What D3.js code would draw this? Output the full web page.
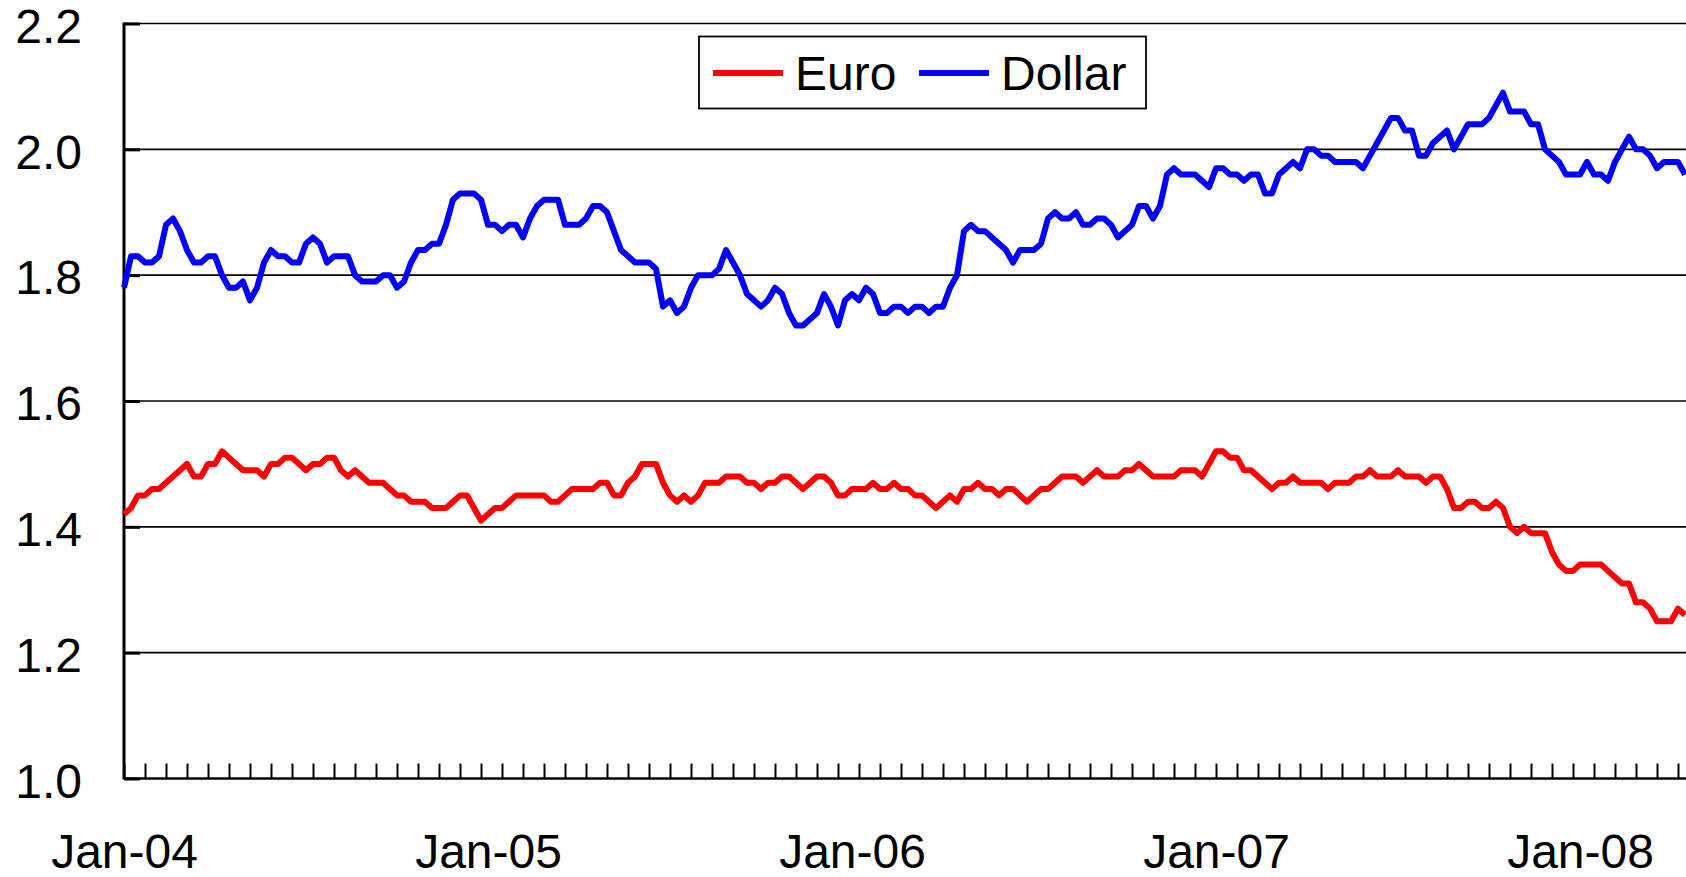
<!DOCTYPE html>
<html><head><meta charset="utf-8">
<script src="https://cdn.jsdelivr.net/npm/d3@7"></script>
<style>html,body{margin:0;padding:0;background:#fff;overflow:hidden}</style>
</head><body>
<svg id="chart" width="1686" height="877"></svg>
<script>
// ---- data (weekly observations, Jan 2004 onwards) ----
const seriesNames = ["Euro", "Dollar"];
const euro = [
 1.42,1.43,1.45,1.45,1.46,1.46,1.47,1.48,1.49,1.50,1.48,1.48,1.50,1.50,1.52,1.51,1.50,1.49,1.49,1.49,
 1.48,1.50,1.50,1.51,1.51,1.50,1.49,1.50,1.50,1.51,1.51,1.49,1.48,1.49,1.48,1.47,1.47,
 1.47,1.46,1.45,1.45,1.44,1.44,1.44,1.43,1.43,1.43,1.44,1.45,1.45,1.43,1.41,1.42,1.43,1.43,1.44,1.45,
 1.45,1.45,1.45,1.45,1.44,1.44,1.45,1.46,1.46,1.46,1.46,1.47,1.47,1.45,1.45,1.47,1.48,
 1.50,1.50,1.50,1.47,1.45,1.44,1.45,1.44,1.45,1.47,1.47,1.47,1.48,1.48,1.48,1.47,1.47,1.46,1.47,1.47,
 1.48,1.48,1.47,1.46,1.47,1.48,1.48,1.47,1.45,1.45,1.46,1.46,1.46,1.47,1.46,1.46,
 1.47,1.46,1.46,1.45,1.45,1.44,1.43,1.44,1.45,1.44,1.46,1.46,1.47,1.46,1.46,1.45,1.46,1.46,1.45,1.44,
 1.45,1.46,1.46,1.47,1.48,1.48,1.48,1.47,1.48,1.49,1.48,1.48,1.48,1.49,1.49,1.50,1.49,1.48,1.48,
 1.48,1.48,1.49,1.49,1.49,1.48,1.50,1.52,1.52,1.51,1.51,1.49,1.49,1.48,1.47,1.46,1.47,1.47,1.48,1.47,
 1.47,1.47,1.47,1.46,1.47,1.47,1.47,1.48,1.48,1.49,1.48,1.48,1.48,1.49,1.48,
 1.48,1.48,1.47,1.48,1.48,1.46,1.43,1.43,1.44,1.44,1.43,1.43,1.44,1.43,1.40,1.39,1.40,1.39,1.39,1.39,
 1.36,1.34,1.33,1.33,1.34,1.34,1.34,1.34,1.33,1.32,1.31,1.31,1.28,1.28,1.27,1.25,1.25,1.25,1.27,1.26
];
const dollar = [
 1.78,1.83,1.83,1.82,1.82,1.83,1.88,1.89,1.87,1.84,1.82,1.82,1.83,1.83,1.80,1.78,1.78,1.79,1.76,1.78,
 1.82,1.84,1.83,1.83,1.82,1.82,1.85,1.86,1.85,1.82,1.83,1.83,1.83,1.80,1.79,1.79,1.79,
 1.80,1.80,1.78,1.79,1.82,1.84,1.84,1.85,1.85,1.88,1.92,1.93,1.93,1.93,1.92,1.88,1.88,1.87,1.88,1.88,
 1.86,1.89,1.91,1.92,1.92,1.92,1.88,1.88,1.88,1.89,1.91,1.91,1.90,1.87,1.84,1.83,
 1.82,1.82,1.82,1.81,1.75,1.76,1.74,1.75,1.78,1.80,1.80,1.80,1.81,1.84,1.82,1.80,1.77,1.76,1.75,1.76,
 1.78,1.77,1.74,1.72,1.72,1.73,1.74,1.77,1.75,1.72,1.76,1.77,1.76,1.78,1.77,1.74,1.74,
 1.75,1.75,1.74,1.75,1.75,1.74,1.75,1.75,1.78,1.80,1.87,1.88,1.87,1.87,1.86,1.85,1.84,1.82,1.84,1.84,
 1.84,1.85,1.89,1.90,1.89,1.89,1.90,1.88,1.88,1.89,1.89,1.88,1.86,1.87,1.88,1.91,1.91,1.89,
 1.91,1.96,1.97,1.96,1.96,1.96,1.95,1.94,1.97,1.97,1.96,1.96,1.95,1.96,1.96,1.93,1.93,1.96,1.97,1.98,
 1.97,2.00,2.00,1.99,1.99,1.98,1.98,1.98,1.98,1.97,1.99,2.01,2.03,2.05,2.05,2.03,2.03,
 1.99,1.99,2.01,2.02,2.03,2.00,2.02,2.04,2.04,2.04,2.05,2.07,2.09,2.06,2.06,2.06,2.04,2.04,2.00,1.99,
 1.98,1.96,1.96,1.96,1.98,1.96,1.96,1.95,1.98,2.00,2.02,2.00,2.00,1.99,1.97,1.98,1.98,1.98,1.96
];
const yTickValues = [1.0, 1.2, 1.4, 1.6, 1.8, 2.0, 2.2];
const xLabelWeeks = [0, 52, 104, 156, 208];          // category index of each label
const xTickLabels = ["Jan-04", "Jan-05", "Jan-06", "Jan-07", "Jan-08"];
const tickEveryWeeks = 3;

// ---- styles / layout ----
const colors = {Euro: "#ff0000", Dollar: "#0000ff"};
const W = 1686, H = 877;
const plotLeft = 124, plotTop = 23.5, plotBottom = 778.5, plotRight = W;
const weekPx = 7.0;
const font = "'Liberation Sans', Arial, sans-serif";

const n = euro.length;
const series = [
  {name: "Euro", values: euro},
  {name: "Dollar", values: dollar}
];

const x = d3.scaleLinear().domain([0, n - 1]).range([plotLeft, plotLeft + (n - 1) * weekPx]);
const y = d3.scaleLinear().domain([1.0, 2.2]).range([plotBottom, plotTop]);

const svg = d3.select("#chart");
svg.append("rect").attr("width", W).attr("height", H).attr("fill", "#fff");

// horizontal gridlines
svg.append("g").selectAll("line").data(yTickValues.filter(v => v > 1.0)).join("line")
  .attr("x1", plotLeft).attr("x2", plotRight)
  .attr("y1", d => y(d)).attr("y2", d => y(d))
  .attr("stroke", "#000").attr("stroke-width", 1.6);

// y axis (inward ticks + labels)
const yAxis = svg.append("g").attr("transform", `translate(${plotLeft},0)`)
  .call(d3.axisLeft(y).tickValues(yTickValues).tickSize(-16).tickPadding(42)
        .tickFormat(d3.format(".1f")));
yAxis.select(".domain").remove();
yAxis.selectAll(".tick line").attr("stroke", "#000").attr("stroke-width", 3);
yAxis.selectAll("text").attr("font-family", font).attr("font-size", 48).attr("fill", "#000")
  .attr("dy", "0.39em");

// x axis: inward category tick marks
const xMinor = svg.append("g").attr("transform", `translate(0,${plotBottom})`)
  .call(d3.axisBottom(x).tickValues(d3.range(0, n, tickEveryWeeks)).tickSize(-15).tickFormat(""));
xMinor.select(".domain").remove();
xMinor.selectAll(".tick line").attr("stroke", "#000").attr("stroke-width", 2);

// x labels
const xLab = svg.append("g").attr("transform", `translate(0,${plotBottom})`)
  .call(d3.axisBottom(x).tickValues(xLabelWeeks).tickSize(0).tickPadding(55)
        .tickFormat((d, i) => xTickLabels[i]));
xLab.select(".domain").remove();
xLab.selectAll("text").attr("font-family", font).attr("font-size", 48).attr("fill", "#000");

// axis lines
svg.append("line").attr("x1", plotLeft).attr("x2", plotRight).attr("y1", plotBottom).attr("y2", plotBottom)
  .attr("stroke", "#000").attr("stroke-width", 2.5);
svg.append("line").attr("x1", plotLeft).attr("x2", plotLeft).attr("y1", plotTop - 1).attr("y2", plotBottom + 1)
  .attr("stroke", "#000").attr("stroke-width", 3);

// series lines
const line = d3.line().x((d, i) => x(i)).y(d => y(d));
svg.append("g").selectAll("path").data(series).join("path")
  .attr("d", s => line(s.values))
  .attr("fill", "none")
  .attr("stroke", s => colors[s.name])
  .attr("stroke-width", 6)
  .attr("stroke-linejoin", "round")
  .attr("stroke-linecap", "butt");

// legend
const lg = svg.append("g");
lg.append("rect").attr("x", 699).attr("y", 36.5).attr("width", 447).attr("height", 72)
  .attr("fill", "#fff").attr("stroke", "#000").attr("stroke-width", 1.8);
const legendItems = [
  {name: seriesNames[0], x0: 713, x1: 783, tx: 795},
  {name: seriesNames[1], x0: 919, x1: 989, tx: 1001}
];
legendItems.forEach(it => {
  lg.append("line").attr("x1", it.x0).attr("x2", it.x1).attr("y1", 73).attr("y2", 73)
    .attr("stroke", colors[it.name]).attr("stroke-width", 6);
  lg.append("text").attr("x", it.tx).attr("y", 73).attr("dy", "0.35em")
    .attr("font-family", font).attr("font-size", 48).attr("fill", "#000").text(it.name);
});
</script>
</body></html>
